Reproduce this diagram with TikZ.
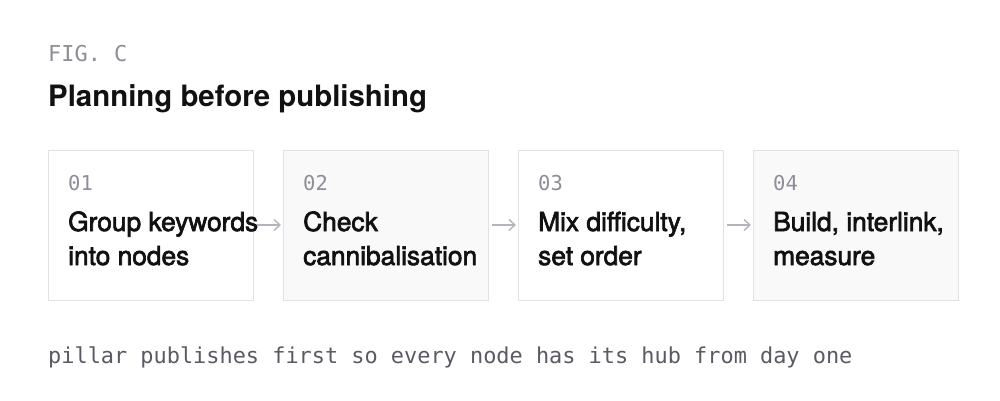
\documentclass[tikz,border=0pt]{standalone}
\usepackage{fontspec}
\setmainfont{TeX Gyre Heros}
\setmonofont{DejaVu Sans Mono}
\newfontfamily\boxfont[FakeBold=2.5]{TeX Gyre Heros}
\usetikzlibrary{positioning,arrows.meta}
\definecolor{edgegray}{HTML}{E2E2E6}
\definecolor{fillgray}{HTML}{F9F9F9}
\definecolor{arrowgray}{HTML}{B4B4BC}
\definecolor{figgray}{HTML}{8E8E98}
\definecolor{notegray}{HTML}{5A5A64}
\definecolor{inkblack}{HTML}{111111}
\tikzset{
  stepbox/.style={draw=edgegray, line width=1pt, minimum width=205pt, minimum height=150pt, inner sep=0pt, outer sep=0pt},
  numlabel/.style={anchor=base west, inner sep=0pt, text=figgray, font=\ttfamily\fontsize{20.5}{24}\selectfont},
  steplabel/.style={anchor=base west, inner sep=0pt, text=inkblack, font=\boxfont\fontsize{26.3}{30}\selectfont}
}
\begin{document}
\begin{tikzpicture}[x=1pt,y=1pt,>={Straight Barb[length=6pt,width=11pt]}]
\useasboundingbox (0,0) rectangle (1000,400);
\node[anchor=base west, inner sep=0pt, text=figgray, font=\ttfamily\fontsize{21.9}{24}\selectfont] (fig) at (48,339) {FIG. C};
\node[anchor=base west, inner sep=0pt, text=inkblack, font=\bfseries\fontsize{29.4}{34}\selectfont] (title) at (48,294) {Planning before publishing};
\node[stepbox, anchor=south west] (s1) at (48,100) {};
\node[stepbox, fill=fillgray, right=30pt of s1] (s2) {};
\node[stepbox, right=30pt of s2] (s3) {};
\node[stepbox, fill=fillgray, right=30pt of s3] (s4) {};
\foreach \i/\num/\la/\lb in {1/01/{Group keywords}/{into nodes}, 2/02/{Check}/{cannibalisation}, 3/03/{Mix difficulty,}/{set order}, 4/04/{Build, interlink,}/{measure}}{
  \path (s\i.north west) ++(20,-40) node[numlabel] (n\i) {\num};
  \path (s\i.north west) ++(20,-81) node[steplabel] (a\i) {\la};
  \path (s\i.north west) ++(20,-115) node[steplabel] (b\i) {\lb};
}
\draw[->, arrowgray, line width=1.4pt, shorten <=4pt, shorten >=2pt] (s1) -- (s2);
\draw[->, arrowgray, line width=1.4pt, shorten <=4pt, shorten >=2pt] (s2) -- (s3);
\draw[->, arrowgray, line width=1.4pt, shorten <=4pt, shorten >=2pt] (s3) -- (s4);
\node[anchor=base west, inner sep=0pt, text=notegray, font=\ttfamily\fontsize{21.9}{24}\selectfont] (note) at (48,37) {pillar publishes first so every node has its hub from day one};
\end{tikzpicture}
\end{document}
